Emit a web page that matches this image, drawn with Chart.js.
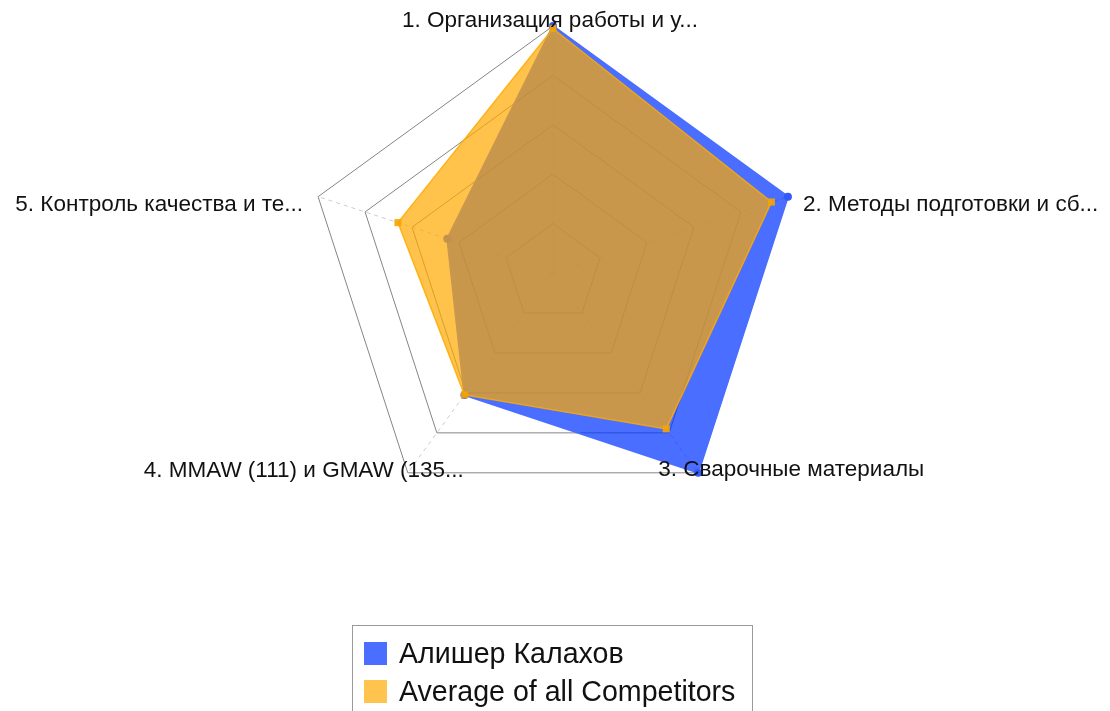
<!DOCTYPE html>
<html>
<head>
<meta charset="utf-8">
<script src="https://cdn.jsdelivr.net/npm/chart.js@4.4.1/dist/chart.umd.min.js"></script>
<style>
  html, body { margin: 0; padding: 0; background: #fff; overflow: hidden; }
  #wrap { position: relative; width: 1110px; height: 711px; }
  #legend {
    position: absolute; left: 352px; top: 625px; width: 401px; height: 100px;
    border: 1px solid #9a9a9a; box-sizing: border-box;
    font-family: "Liberation Sans", Arial, sans-serif; font-size: 28.6px; color: #111;
  }
  .item { position: absolute; left: 11px; display: flex; align-items: center; }
  .swatch { width: 23px; height: 23px; margin-right: 12px; }
</style>
</head>
<body>
<div id="wrap">
  <canvas id="radarChart" width="1110" height="711"></canvas>
  <div id="legend"></div>
</div>
<script>
// Axis labels (already truncated in the source picture)
const categories = [
    '1. Организация работы и у...',
    '2. Методы подготовки и сб...',
    '3. Сварочные материалы',
    '4. MMAW (111) и GMAW (135...',
    '5. Контроль качества и те...'
];

// Series values (percent of the outer ring)
const alisherScores = [100, 100, 100, 61, 45];
const averageScores = [99, 93, 78, 61, 66];

const seriesNames = ['Алишер Калахов', 'Average of all Competitors'];

// Label placement around each vertex (style only)
const labelOffsets = [
    { dx: -3, dy: 1, align: 'center' },
    { dx: 15, dy: 14, align: 'left' },
    { dx: -40, dy: 3, align: 'left' },
    { dx: 56, dy: 4, align: 'right' },
    { dx: -15, dy: 14, align: 'right' }
];

const blueFill = 'rgba(0, 51, 255, 0.71)';
const orangeFill = 'rgba(255, 170, 0, 0.7)';
const legendColors = ['rgb(74, 110, 255)', 'rgb(255, 196, 77)'];

// Draws the axis labels on top of everything, like the original
const axisLabels = {
    id: 'axisLabels',
    afterDraw(chart) {
        const scale = chart.scales.r;
        const ctx = chart.ctx;
        ctx.save();
        ctx.font = '22.5px "Liberation Sans", Arial, sans-serif';
        ctx.fillStyle = '#111';
        ctx.textBaseline = 'alphabetic';
        categories.forEach((text, i) => {
            const p = scale.getPointPosition(i, scale.drawingArea);
            const o = labelOffsets[i];
            ctx.textAlign = o.align;
            ctx.fillText(text, p.x + o.dx, p.y + o.dy);
        });
        ctx.restore();
    }
};

const ctx = document.getElementById('radarChart').getContext('2d');
const radarChart = new Chart(ctx, {
    type: 'radar',
    data: {
        labels: categories,
        datasets: [
            {
                label: seriesNames[0],
                data: alisherScores,
                order: 1,
                fill: true,
                backgroundColor: blueFill,
                borderColor: 'rgb(74, 110, 255)',
                borderWidth: 2,
                pointStyle: 'circle',
                pointRadius: 4,
                pointBackgroundColor: 'rgb(50, 90, 255)',
                pointBorderWidth: 0
            },
            {
                label: seriesNames[1],
                data: averageScores,
                order: 0,
                fill: true,
                backgroundColor: orangeFill,
                borderColor: 'rgba(255, 170, 0, 0.85)',
                borderWidth: 1.5,
                pointStyle: 'rect',
                pointRadius: 5,
                pointBackgroundColor: 'rgba(245, 165, 0, 0.9)',
                pointBorderWidth: 0
            }
        ]
    },
    options: {
        responsive: false,
        devicePixelRatio: 1,
        animation: false,
        layout: { padding: { top: 26, bottom: 191, left: 0, right: 4 } },
        plugins: {
            legend: { display: false },
            tooltip: { enabled: false }
        },
        scales: {
            r: {
                min: 0,
                max: 100,
                ticks: { stepSize: 20, display: false },
                pointLabels: { display: false },
                grid: { color: '#858585', lineWidth: 1 },
                angleLines: { color: '#cccccc', lineWidth: 1, borderDash: [4, 4] }
            }
        }
    },
    plugins: [axisLabels]
});

// HTML legend with a framed box, as in the original
const legend = document.getElementById('legend');
seriesNames.forEach((name, i) => {
    const row = document.createElement('div');
    row.className = 'item';
    row.style.top = (i === 0 ? 11 : 49) + 'px';
    const sw = document.createElement('span');
    sw.className = 'swatch';
    sw.style.background = legendColors[i];
    const txt = document.createElement('span');
    txt.textContent = name;
    row.appendChild(sw);
    row.appendChild(txt);
    legend.appendChild(row);
});
</script>
</body>
</html>
